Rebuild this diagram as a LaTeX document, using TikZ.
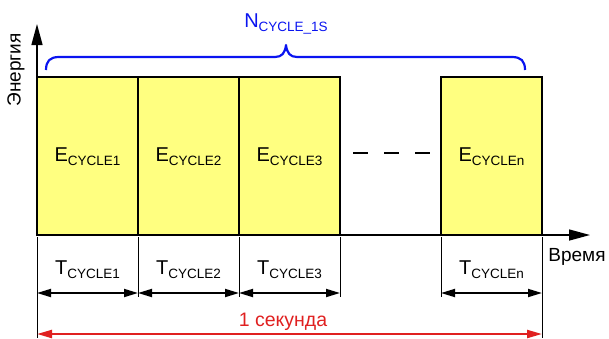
\documentclass[tikz,border=0pt]{standalone}
\usepackage{fontspec}
\setmainfont{Liberation Sans}
\usetikzlibrary{arrows.meta}
\definecolor{boxyellow}{HTML}{FFFF80}
\definecolor{bracblue}{HTML}{0A14F0}
\definecolor{secred}{HTML}{E02020}
\newcommand{\bigtxt}[1]{{\fontsize{20}{24}\selectfont #1}}
\newcommand{\subtxt}[1]{\raisebox{-4pt}{\fontsize{13.5}{16}\selectfont #1}}
\tikzset{
  cyclebox/.style={draw=black, line width=1.8pt, fill=boxyellow, minimum width=101pt, minimum height=158pt, inner sep=0pt, anchor=center},
  axisline/.style={line width=1.4pt, -{Triangle[length=21pt,width=11pt]}},
  tickline/.style={line width=0.9pt},
  dimarrow/.style={line width=1.8pt, {Triangle[length=14pt,width=8pt]}-{Triangle[length=14pt,width=8pt]}},
  redarrow/.style={line width=2.2pt, draw=secred, {Triangle[length=15pt,width=8pt]}-{Triangle[length=15pt,width=8pt]}},
  lbl/.style={inner sep=0pt, anchor=center}
}
\begin{document}
\begin{tikzpicture}[x=1pt,y=-1pt]
\useasboundingbox (0,0) rectangle (609,338);
% boxes
\node[cyclebox] (b1) at (87.5,156) {};
\node[cyclebox] (b2) at (188.5,156) {};
\node[cyclebox] (b3) at (289.5,156) {};
\node[cyclebox] (bn) at (491.5,156) {};
\node[lbl] (e1) at (87.5,157) {\bigtxt{E}\subtxt{CYCLE1}};
\node[lbl] (e2) at (188.5,157) {\bigtxt{E}\subtxt{CYCLE2}};
\node[lbl] (e3) at (289.5,157) {\bigtxt{E}\subtxt{CYCLE3}};
\node[lbl] (en) at (491.5,157) {\bigtxt{E}\subtxt{CYCLEn}};
% dashes
\coordinate (d1) at (353,153);
\coordinate (d2) at (431,153);
\draw[line width=1.8pt, dash pattern=on 15pt off 16pt] (d1) -- (d2);
% axes
\coordinate (O) at (37,235);
\coordinate (ytip) at (37,24);
\coordinate (xtip) at (590,235);
\draw[axisline] (O) -- (ytip);
\draw[axisline] (O) -- (xtip);
\node[lbl, rotate=90] (ylab) at (16,70) {\fontsize{19}{22}\selectfont Энергия};
\node[lbl] (xlab) at (577,257) {\fontsize{19}{22}\selectfont Время};
% ticks
\foreach \n/\x/\yb in {t0/37/338, t1/138/297, t2/239/297, t3/340/297, t4/441/297, t5/542/338} {
  \coordinate (\n a) at (\x,237);
  \coordinate (\n b) at (\x,\yb);
  \draw[tickline] (\n a) -- (\n b);
}
% dimension arrows
\coordinate (a0) at (37,293);
\coordinate (a1) at (138,293);
\coordinate (a2) at (239,293);
\coordinate (a3) at (340,293);
\coordinate (a4) at (441,293);
\coordinate (a5) at (542,293);
\draw[dimarrow] (a0) -- (a1);
\draw[dimarrow] (a1) -- (a2);
\draw[dimarrow] (a2) -- (a3);
\draw[dimarrow] (a4) -- (a5);
\node[lbl] (t1) at (87.5,270) {\bigtxt{T}\subtxt{CYCLE1}};
\node[lbl] (t2) at (188.5,270) {\bigtxt{T}\subtxt{CYCLE2}};
\node[lbl] (t3) at (289.5,270) {\bigtxt{T}\subtxt{CYCLE3}};
\node[lbl] (tn) at (491.5,270) {\bigtxt{T}\subtxt{CYCLEn}};
% red one second
\coordinate (r0) at (37,334);
\coordinate (r1) at (542,334);
\draw[redarrow] (r0) -- (r1);
\node[lbl, text=secred] (sec) at (283,322) {\fontsize{19.5}{22}\selectfont 1 секунда};
% brace
\coordinate (bl) at (46,70);
\coordinate (br) at (525,70);
\coordinate (bp) at (286,45);
\draw[bracblue, line width=2.2pt, line join=round]
  (bl) .. controls (46,61) and (50,57) .. (59,57) -- (275,57)
  .. controls (282,57) and (285,53) .. (bp)
  .. controls (287,53) and (290,57) .. (297,57) -- (512,57)
  .. controls (521,57) and (525,61) .. (br);
\node[lbl, text=bracblue] (nlab) at (286,24) {\bigtxt{N}\subtxt{CYCLE\_1S}};
\end{tikzpicture}
\end{document}
